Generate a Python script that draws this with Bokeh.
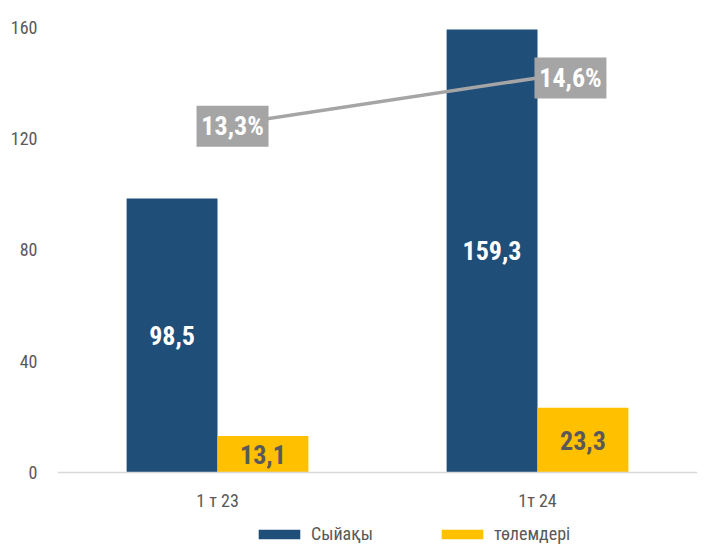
from bokeh.plotting import figure
from bokeh.models import (ColumnDataSource, Range1d, FactorRange, LabelSet, Legend, LegendItem,
                          FixedTicker)
from bokeh.transform import dodge
from bokeh.core.properties import value
from bokeh.embed import file_html
from bokeh.resources import INLINE

categories = ["1 т 23", "1т 24"]
premiums = [98.5, 159.3]
payments = [13.1, 23.3]
ratio = [13.3, 14.6]
premium_labels = ["98,5", "159,3"]
payment_labels = ["13,1", "23,3"]
ratio_labels = ["13,3%", "14,6%"]
y_ticks = [0, 40, 80, 120, 160]

FONT = "Roboto Condensed"
BLUE = "#1F4E79"
YELLOW = "#FFC000"
GRAY = "#A5A5A5"
TXT = "#595959"

src = ColumnDataSource(dict(
    cat=categories, prem=premiums, pay=payments, ratio=ratio,
    prem_half=[v / 2 for v in premiums], pay_half=[v / 2 for v in payments],
    prem_lbl=premium_labels, pay_lbl=payment_labels, ratio_lbl=ratio_labels,
))

# frame spans y 27..544; value 0 sits at y 472 and value 160 at y 27
p = figure(x_range=FactorRange(*categories, range_padding=0), y_range=Range1d(-25.89, 160),
           width=709, height=544, output_backend="svg", toolbar_location=None,
           min_border_left=57, min_border_right=12, min_border_top=27, min_border_bottom=0)
p.extra_y_ranges = {"pct": Range1d(2.04, 15.957)}
p.outline_line_color = None
p.xgrid.grid_line_color = None
p.ygrid.grid_line_color = None

r1 = p.vbar(x=dodge("cat", -0.142, range=p.x_range), top="prem", width=0.284, source=src,
            fill_color=BLUE, line_color=None)
r2 = p.vbar(x=dodge("cat", 0.142, range=p.x_range), top="pay", width=0.284, source=src,
            fill_color=YELLOW, line_color=None)

p.line(x="cat", y="ratio", source=src, y_range_name="pct", line_color=GRAY, line_width=3.5)

p.add_layout(LabelSet(x=dodge("cat", -0.142, range=p.x_range), y="prem_half", text="prem_lbl",
                      source=src, text_align="center", text_baseline="middle",
                      text_font=value(FONT), text_font_style="bold", text_font_size="26px",
                      text_color="white"))
p.add_layout(LabelSet(x=dodge("cat", 0.142, range=p.x_range), y="pay_half", text="pay_lbl",
                      source=src, text_align="center", text_baseline="middle",
                      text_font=value(FONT), text_font_style="bold", text_font_size="26px",
                      text_color=TXT))

# percentage labels with grey boxes, shifted right of their points
label_shift = [0.047, 0.103]
for i in range(len(categories)):
    s = ColumnDataSource(dict(cat=[categories[i]], ratio=[ratio[i]], lbl=[ratio_labels[i]]))
    xd = dodge("cat", label_shift[i], range=p.x_range)
    p.rect(x=xd, y="ratio", width=72, height=41, width_units="screen", height_units="screen",
           source=s, y_range_name="pct", fill_color=GRAY, line_color=None)
    p.text(x=xd, y="ratio", text="lbl", source=s, y_range_name="pct",
           text_align="center", text_baseline="middle", text_font=value(FONT),
           text_font_style="bold", text_font_size="26px", text_color="white")

p.yaxis.ticker = FixedTicker(ticks=y_ticks)
p.yaxis.axis_line_color = None
p.yaxis.major_tick_line_color = None
p.yaxis.minor_tick_line_color = None
p.yaxis.major_label_standoff = 14
p.yaxis.major_label_text_font = FONT
p.yaxis.major_label_text_font_size = "18px"
p.yaxis.major_label_text_color = TXT

p.xaxis.fixed_location = 0
p.xaxis.axis_line_color = "#D9D9D9"
p.xaxis.axis_line_width = 1.5
p.xaxis.major_tick_line_color = None
p.xaxis.minor_tick_line_color = None
p.xaxis.major_label_standoff = 12
p.xaxis.major_label_text_font = FONT
p.xaxis.major_label_text_font_size = "18px"
p.xaxis.major_label_text_color = TXT

legend = Legend(items=[LegendItem(label="Сыйақы", renderers=[r1]),
                       LegendItem(label="төлемдері", renderers=[r2])],
                orientation="horizontal", location=(196, 0),
                glyph_width=52, glyph_height=12, spacing=63, padding=0, margin=0,
                label_standoff=6,
                label_text_font=FONT, label_text_font_size="18px", label_text_color=TXT,
                border_line_color=None, background_fill_alpha=0)
p.add_layout(legend, "center")

open("out.html", "w").write(file_html(p, INLINE))
